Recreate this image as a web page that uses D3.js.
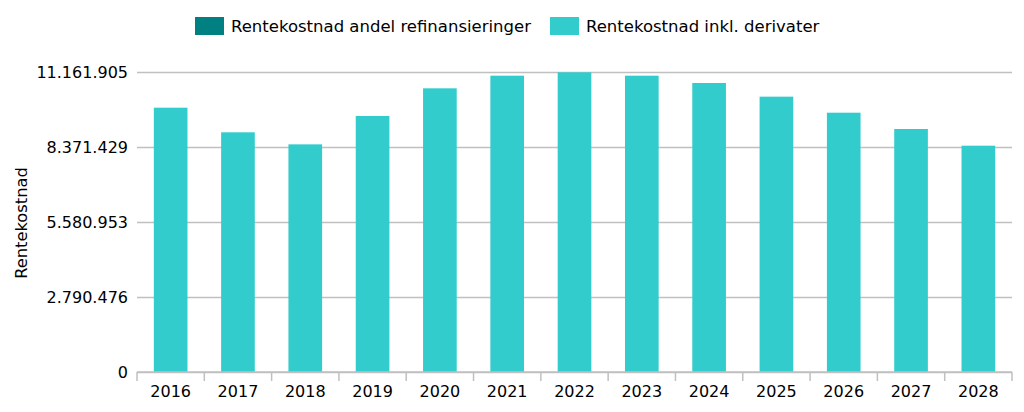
<!DOCTYPE html>
<html>
<head>
<meta charset="utf-8">
<script src="https://cdn.jsdelivr.net/npm/d3@7"></script>
<style>
  body { margin: 0; background: #fff; }
  svg { display: block; font-family: "DejaVu Sans", sans-serif; }
</style>
</head>
<body>
<svg id="chart" width="1024" height="412"></svg>
<script>
const categories = ["2016","2017","2018","2019","2020","2021","2022","2023","2024","2025","2026","2027","2028"];
const seriesNames = ["Rentekostnad andel refinansieringer", "Rentekostnad inkl. derivater"];
const refinans = [0,0,0,0,0,0,0,0,0,0,0,0,0];
const derivater = [9834000, 8918000, 8470000, 9525000, 10555000, 11025000, 11150000, 11025000, 10753000, 10244000, 9648000, 9041000, 8420000];
const yTicks = [0, 2790476, 5580953, 8371429, 11161905];
const yMax = 11161905;
const colors = ["#008080", "#33CCCC"];

const svg = d3.select("#chart");
const m = { left: 137, right: 1012, top: 72, bottom: 372 };

const x = d3.scaleBand().domain(categories).range([m.left, m.right]).paddingInner(0.5).paddingOuter(0.25);
const y = d3.scaleLinear().domain([0, yMax]).range([m.bottom, m.top]);
const fmt = v => d3.format(",")(v).replace(/,/g, ".");

// gridlines
const yAxis = d3.axisLeft(y).tickValues(yTicks).tickSize(-(m.right - m.left)).tickFormat(fmt).tickPadding(9);
const gy = svg.append("g").attr("transform", `translate(${m.left},0)`).call(yAxis);
gy.select(".domain").remove();
gy.selectAll(".tick line").attr("stroke", "#c0c0c0").attr("stroke-width", 1.5);
gy.selectAll(".tick text").attr("fill", "#000").style("font-size", "16px").style("font-family", "DejaVu Sans");

// stacked bars
const data = categories.map((c, i) => ({ cat: c, s0: refinans[i], s1: derivater[i] }));
const stack = d3.stack().keys(["s0", "s1"])(data);
stack.forEach((layer, li) => {
  svg.append("g").attr("fill", colors[li]).selectAll("rect").data(layer).join("rect")
    .attr("x", d => x(d.data.cat))
    .attr("width", x.bandwidth())
    .attr("y", d => y(d[1]))
    .attr("height", d => y(d[0]) - y(d[1]));
});

// x axis
const xb = d3.scaleLinear().domain([0, categories.length]).range([m.left, m.right]);
const gx = svg.append("g").attr("transform", `translate(0,${m.bottom})`);
gx.append("line").attr("x1", m.left).attr("x2", m.right).attr("stroke", "#c0c0c0").attr("stroke-width", 1.5);
gx.selectAll("line.tk").data(d3.range(categories.length + 1)).join("line").attr("class", "tk")
  .attr("x1", d => xb(d)).attr("x2", d => xb(d)).attr("y1", 0).attr("y2", 9)
  .attr("stroke", "#c0c0c0").attr("stroke-width", 1.5);
gx.selectAll("text").data(categories).join("text")
  .attr("x", d => x(d) + x.bandwidth() / 2).attr("y", 25)
  .attr("text-anchor", "middle").style("font-size", "16px").attr("fill", "#000").text(d => d);

// y title
svg.append("text").attr("transform", "translate(27,223) rotate(-90)")
  .attr("text-anchor", "middle").style("font-size", "16.3px").text("Rentekostnad");

// legend
const legX = [195, 550];
seriesNames.forEach((n, i) => {
  const g = svg.append("g").attr("transform", `translate(${legX[i]},17)`);
  g.append("rect").attr("width", 29).attr("height", 18).attr("fill", colors[i]);
  g.append("text").attr("x", 36).attr("y", 15).style("font-size", "16.5px").text(n);
});
</script>
</body>
</html>
